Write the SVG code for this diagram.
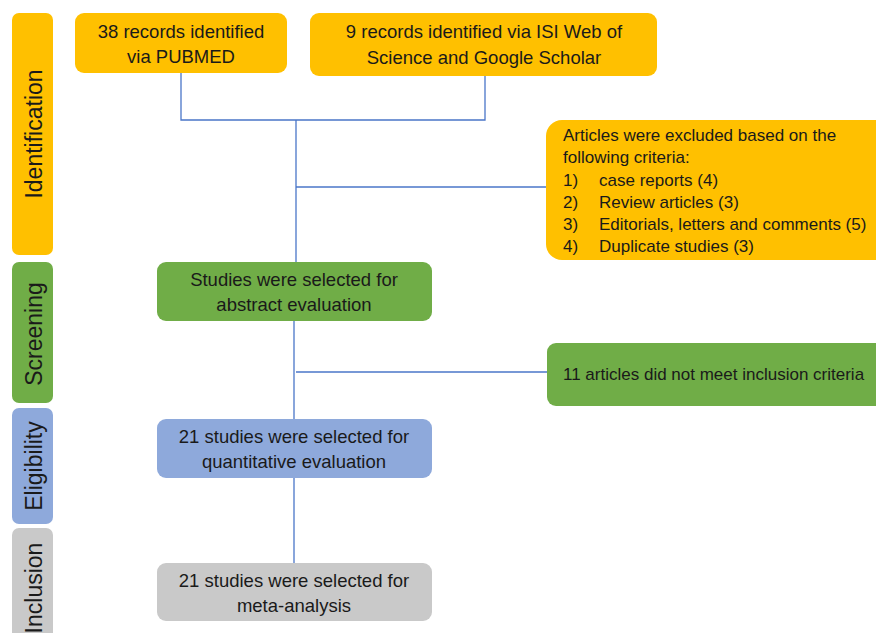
<svg xmlns="http://www.w3.org/2000/svg" width="876" height="633" viewBox="0 0 876 633">
<style>
.t{font-family:"Liberation Sans","Noto Sans",Arial,sans-serif;font-size:17px;fill:#1a1a1a}
.b{font-size:18.5px}
.c{text-anchor:middle}
.s{font-family:"Liberation Sans","Noto Sans",Arial,sans-serif;font-size:23px;fill:#1a1a1a;text-anchor:middle}
.or{fill:#FFC000}.gr{fill:#70AD47}.bl{fill:#8EA9DB}.gy{fill:#C9C9C9}
.ln{stroke:#4A76C8;stroke-width:1.3;fill:none}
</style>
<rect width="876" height="633" fill="#fff"/>
<g id="stage-identification"><rect class="or" x="12" y="13" width="41" height="242" rx="7"/><text class="s" transform="translate(42,134) rotate(-90)">Identification</text></g>
<g id="stage-screening"><rect class="gr" x="12" y="262" width="41" height="141" rx="7"/><text class="s" transform="translate(42,334) rotate(-90)">Screening</text></g>
<g id="stage-eligibility"><rect class="bl" x="12" y="408" width="41" height="116" rx="7"/><text class="s" transform="translate(42,466) rotate(-90)">Eligibility</text></g>
<g id="stage-inclusion"><rect class="gy" x="12" y="528" width="41" height="115" rx="7"/><text class="s" transform="translate(42,588) rotate(-90)">Inclusion</text></g>
<g id="connectors">
<path class="ln" d="M181,73 V120 H485 V76"/>
<path class="ln" d="M296,120 V262"/>
<path class="ln" d="M296,187 H547"/>
<path class="ln" d="M294,321 V419"/>
<path class="ln" d="M296,372 H547"/>
<path class="ln" d="M294,478 V563"/>
</g>
<g id="pubmed"><rect class="or" x="75" y="13" width="212" height="60" rx="9"/><text class="t b c" x="181" y="38">38 records identified</text><text class="t b c" x="181" y="63">via PUBMED</text></g>
<g id="isi"><rect class="or" x="310" y="13" width="347" height="63" rx="9"/><text class="t b c" x="484" y="38">9 records identified via ISI Web of</text><text class="t b c" x="484" y="64">Science and Google Scholar</text></g>
<g id="excluded"><rect class="or" x="546" y="120" width="345" height="140" rx="16"/>
<text class="t" x="563" y="141">Articles were excluded based on the</text>
<text class="t" x="563" y="163">following criteria:</text>
<text class="t" x="563" y="186">1)</text><text class="t" x="599" y="186">case reports (4)</text>
<text class="t" x="563" y="208">2)</text><text class="t" x="599" y="208">Review articles (3)</text>
<text class="t" x="563" y="230">3)</text><text class="t" x="599" y="230">Editorials, letters and comments (5)</text>
<text class="t" x="563" y="252">4)</text><text class="t" x="599" y="252">Duplicate studies (3)</text></g>
<g id="abstract"><rect class="gr" x="157" y="262" width="275" height="59" rx="9"/><text class="t b c" x="294" y="286">Studies were selected for</text><text class="t b c" x="294" y="311">abstract evaluation</text></g>
<g id="not-meet"><rect class="gr" x="547" y="343" width="345" height="63" rx="9"/><text class="t" x="563" y="380">11 articles did not meet inclusion criteria</text></g>
<g id="quantitative"><rect class="bl" x="157" y="419" width="275" height="59" rx="9"/><text class="t b c" x="294" y="443">21 studies were selected for</text><text class="t b c" x="294" y="468">quantitative evaluation</text></g>
<g id="meta"><rect class="gy" x="157" y="563" width="275" height="58" rx="9"/><text class="t b c" x="294" y="587">21 studies were selected for</text><text class="t b c" x="294" y="612">meta-analysis</text></g>
</svg>
